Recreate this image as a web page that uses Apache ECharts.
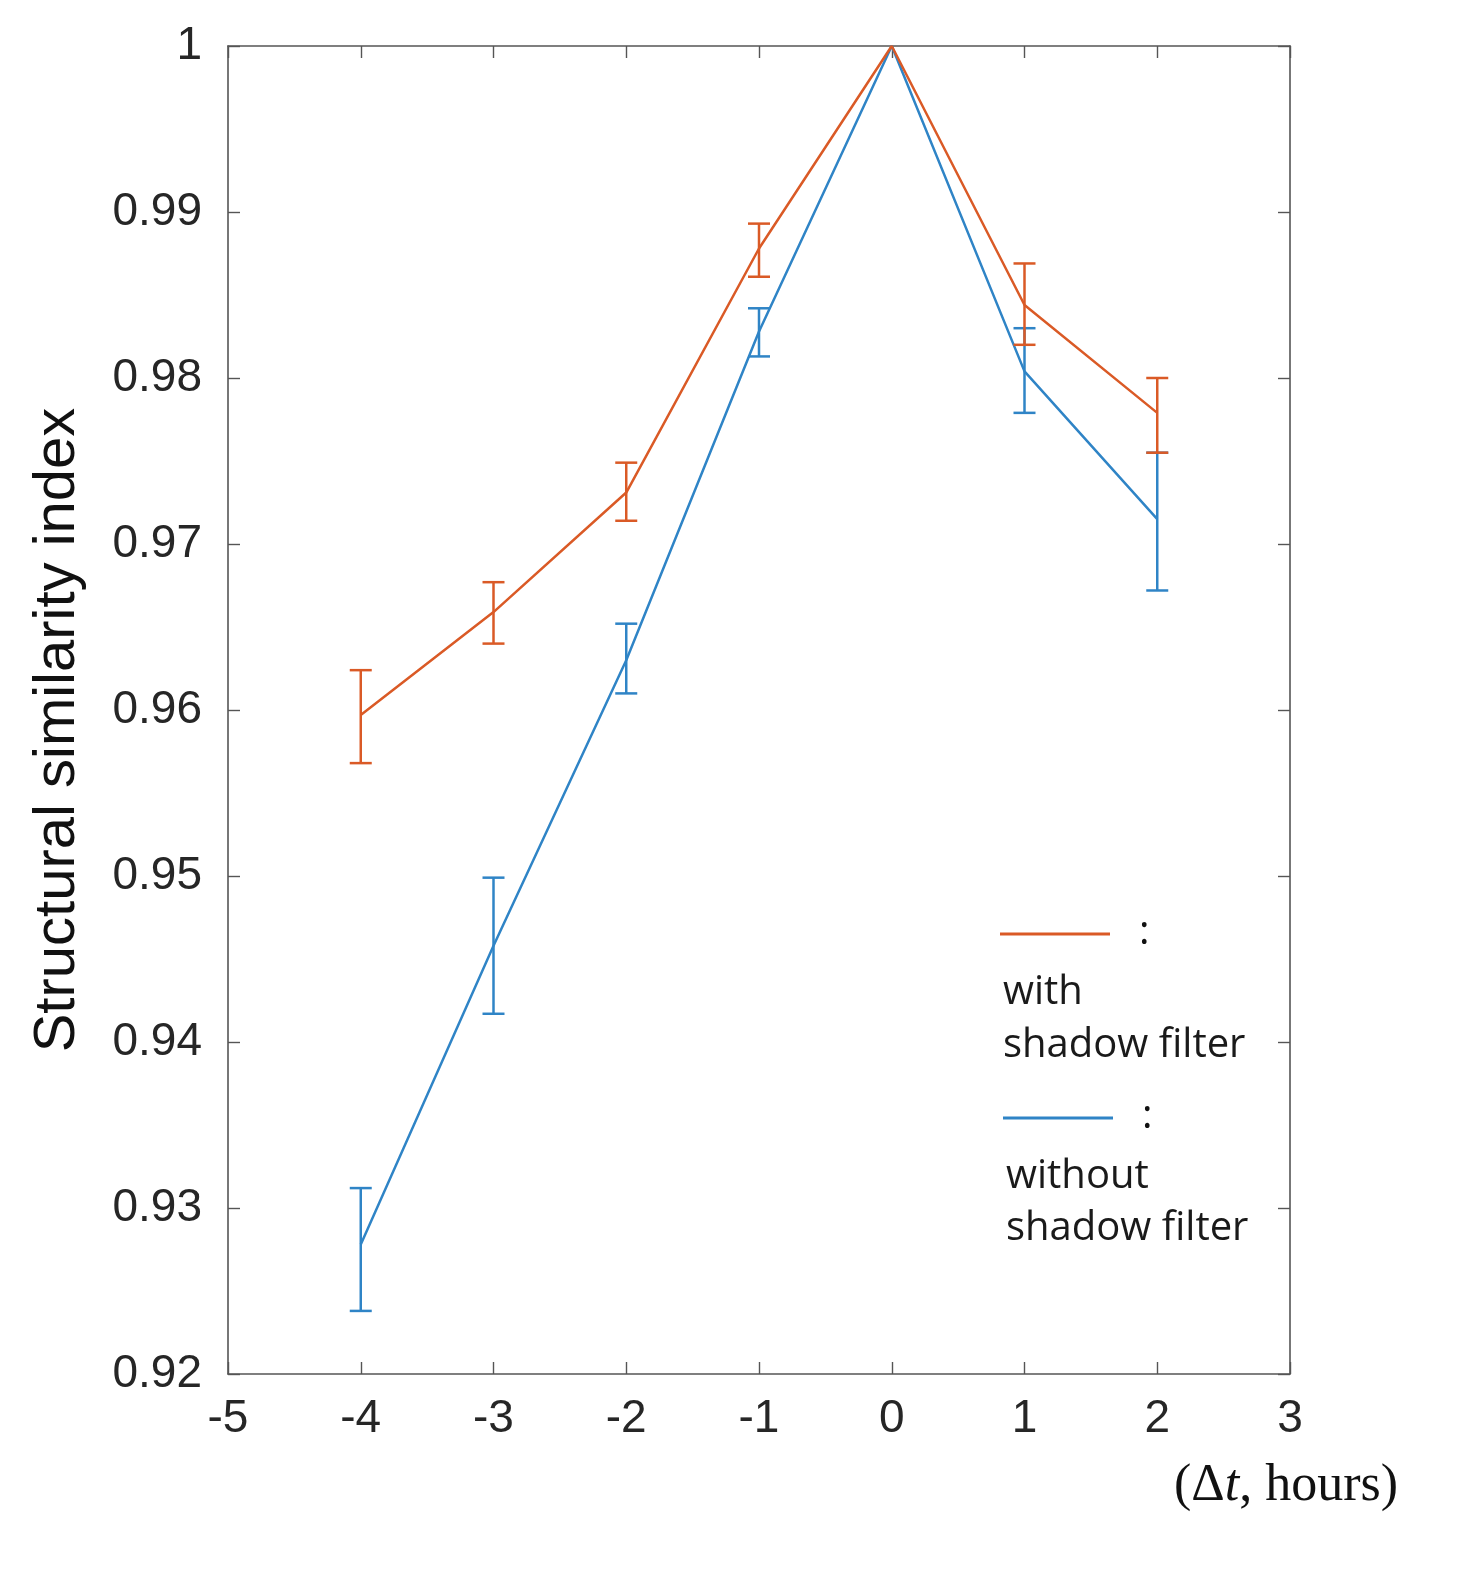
<!DOCTYPE html>
<html>
<head>
<meta charset="utf-8">
<script src="https://cdn.jsdelivr.net/npm/echarts@6/dist/echarts.min.js"></script>
<style>
  html, body { margin: 0; padding: 0; background: #ffffff; }
  #chart { width: 1462px; height: 1590px; }
</style>
</head>
<body>
<div id="chart"></div>
<script>
// ---- Data ----
const hours = [-4, -3, -2, -1, 0, 1, 2];

const withFilterMean = [0.9597, 0.9659, 0.9731, 0.9878, 1.0000, 0.9844, 0.9779];
const withFilterLow  = [0.9568, 0.9640, 0.9714, 0.9861, 1.0000, 0.9820, 0.9755];
const withFilterHigh = [0.9624, 0.9677, 0.9749, 0.9893, 1.0000, 0.9869, 0.9800];

const withoutFilterMean = [0.9278, 0.9458, 0.9630, 0.9828, 1.0000, 0.9804, 0.9715];
const withoutFilterLow  = [0.9238, 0.9417, 0.9610, 0.9813, 1.0000, 0.9779, 0.9672];
const withoutFilterHigh = [0.9312, 0.9499, 0.9652, 0.9842, 1.0000, 0.9830, 0.9755];

const xTicks = [-5, -4, -3, -2, -1, 0, 1, 2, 3];
const yTicks = [0.92, 0.93, 0.94, 0.95, 0.96, 0.97, 0.98, 0.99, 1];

const seriesNames = ['with shadow filter', 'without shadow filter'];
const yAxisTitle = 'Structural similarity index';

// ---- Styles ----
const ORANGE = '#DA5A26';
const BLUE = '#2F84C6';
const AXIS_COLOR = '#555555';
const TEXT_COLOR = '#262626';
const TICK_FONT = 'Liberation Sans';
const LEGEND_FONT = '40px "Open Sans"';

function errorBarRenderer(color) {
  return function (params, api) {
    const x = api.value(0), lo = api.value(1), hi = api.value(2);
    if (hi - lo < 1e-9) return null;
    const pHi = api.coord([x, hi]);
    const pLo = api.coord([x, lo]);
    const hw = 11;
    const st = { stroke: color, lineWidth: 2.5 };
    return {
      type: 'group',
      children: [
        { type: 'line', shape: { x1: pHi[0], y1: pHi[1], x2: pLo[0], y2: pLo[1] }, style: st },
        { type: 'line', shape: { x1: pHi[0] - hw, y1: pHi[1], x2: pHi[0] + hw, y2: pHi[1] }, style: st },
        { type: 'line', shape: { x1: pLo[0] - hw, y1: pLo[1], x2: pLo[0] + hw, y2: pLo[1] }, style: st }
      ]
    };
  };
}

const axisLineStyle = { color: AXIS_COLOR, width: 1.6 };
const tickStyle = { color: AXIS_COLOR, width: 1.4 };
const yFmt = v => String(parseFloat(Number(v).toFixed(2)));

const chart = echarts.init(document.getElementById('chart'), null, { renderer: 'canvas' });

const option = {
  backgroundColor: '#ffffff',
  animation: false,
  grid: { left: 228, right: 172, top: 46, bottom: 216, containLabel: false },
  xAxis: [
    {
      type: 'value', min: xTicks[0], max: xTicks[xTicks.length - 1], interval: 1,
      position: 'bottom',
      axisLine: { show: true, onZero: false, lineStyle: axisLineStyle },
      axisTick: { show: true, inside: true, length: 12, lineStyle: tickStyle },
      axisLabel: { fontSize: 46, color: TEXT_COLOR, margin: 22, fontFamily: TICK_FONT },
      splitLine: { show: false }
    },
    {
      type: 'value', min: xTicks[0], max: xTicks[xTicks.length - 1], interval: 1,
      position: 'top',
      axisLine: { show: true, onZero: false, lineStyle: axisLineStyle },
      axisTick: { show: true, inside: true, length: 12, lineStyle: tickStyle },
      axisLabel: { show: false },
      splitLine: { show: false }
    }
  ],
  yAxis: [
    {
      type: 'value', min: yTicks[0], max: yTicks[yTicks.length - 1], interval: 0.01,
      position: 'left',
      axisLine: { show: true, onZero: false, lineStyle: axisLineStyle },
      axisTick: { show: true, inside: true, length: 12, lineStyle: tickStyle },
      axisLabel: { fontSize: 46, color: TEXT_COLOR, margin: 26, fontFamily: TICK_FONT, formatter: yFmt },
      splitLine: { show: false }
    },
    {
      type: 'value', min: yTicks[0], max: yTicks[yTicks.length - 1], interval: 0.01,
      position: 'right',
      axisLine: { show: true, onZero: false, lineStyle: axisLineStyle },
      axisTick: { show: true, inside: true, length: 12, lineStyle: tickStyle },
      axisLabel: { show: false },
      splitLine: { show: false }
    }
  ],
  series: [
    {
      name: seriesNames[1], type: 'line',
      data: hours.map((h, i) => [h, withoutFilterMean[i]]),
      symbol: 'none', lineStyle: { color: BLUE, width: 2.5 }, z: 3
    },
    {
      name: seriesNames[1] + ' error', type: 'custom',
      data: hours.map((h, i) => [h, withoutFilterLow[i], withoutFilterHigh[i]]),
      renderItem: errorBarRenderer(BLUE), z: 3
    },
    {
      name: seriesNames[0], type: 'line',
      data: hours.map((h, i) => [h, withFilterMean[i]]),
      symbol: 'none', lineStyle: { color: ORANGE, width: 2.5 }, z: 4
    },
    {
      name: seriesNames[0] + ' error', type: 'custom',
      data: hours.map((h, i) => [h, withFilterLow[i], withFilterHigh[i]]),
      renderItem: errorBarRenderer(ORANGE), z: 4
    }
  ],
  graphic: [
    // y-axis title
    {
      type: 'text', x: 58, y: 730, rotation: Math.PI / 2,
      style: {
        text: yAxisTitle, font: '58px "Liberation Sans"', fill: '#111111',
        align: 'center', verticalAlign: 'middle', textAlign: 'center', textVerticalAlign: 'middle'
      }
    },
    // Legend: with shadow filter
    { type: 'line', shape: { x1: 1000, y1: 934, x2: 1110, y2: 934 }, style: { stroke: ORANGE, lineWidth: 3 } },
    { type: 'text', left: 1139, top: 913, style: { text: ':', font: LEGEND_FONT, fill: '#111' } },
    { type: 'text', left: 1003, top: 973, style: { text: 'with', font: LEGEND_FONT, fill: '#1a1a1a' } },
    { type: 'text', left: 1003, top: 1026, style: { text: 'shadow filter', font: LEGEND_FONT, fill: '#1a1a1a' } },
    // Legend: without shadow filter
    { type: 'line', shape: { x1: 1003, y1: 1118, x2: 1113, y2: 1118 }, style: { stroke: BLUE, lineWidth: 3 } },
    { type: 'text', left: 1142, top: 1097, style: { text: ':', font: LEGEND_FONT, fill: '#111' } },
    { type: 'text', left: 1006, top: 1157, style: { text: 'without', font: LEGEND_FONT, fill: '#1a1a1a' } },
    { type: 'text', left: 1006, top: 1209, style: { text: 'shadow filter', font: LEGEND_FONT, fill: '#1a1a1a' } },
    // x-axis title
    {
      type: 'text', left: 1174, top: 1460,
      style: {
        text: '(Δ{it|t}, hours)',
        rich: { it: { font: 'italic 52px "Liberation Serif"', fill: '#111' } },
        font: '52px "Liberation Serif"', fill: '#111'
      }
    }
  ]
};

chart.setOption(option);
</script>
</body>
</html>
